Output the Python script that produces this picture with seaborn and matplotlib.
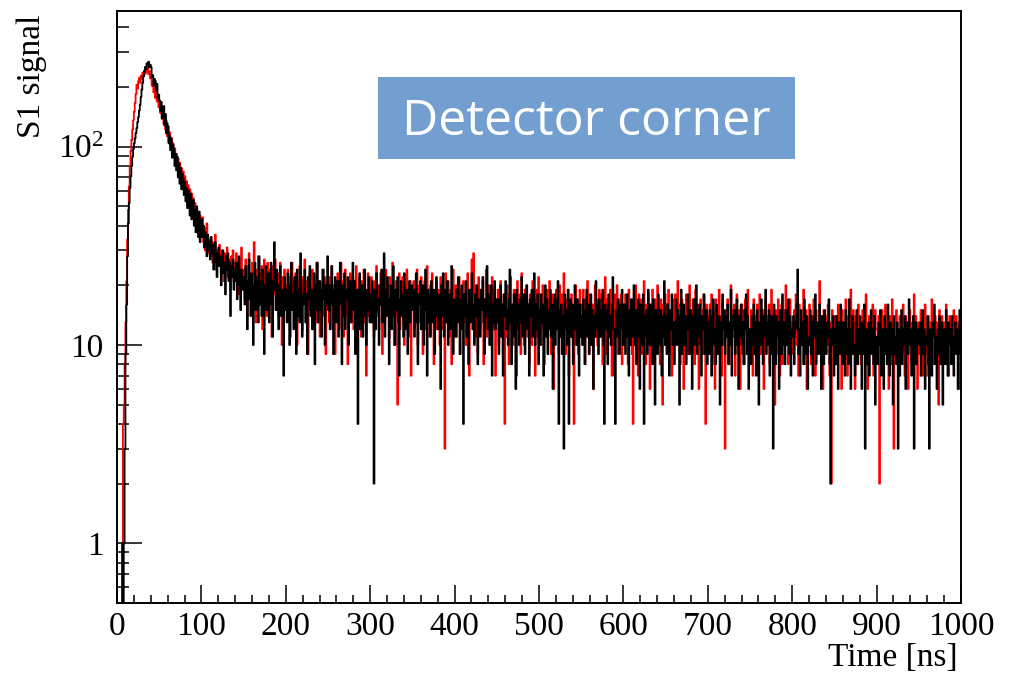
import numpy as np
import pandas as pd
import matplotlib
matplotlib.use("Agg")
import matplotlib.pyplot as plt
import seaborn as sns
from matplotlib.ticker import FixedLocator, FixedFormatter, LogLocator, MultipleLocator, NullFormatter
from matplotlib.patches import Rectangle

# ---------------- data: counts per 1 ns bin ----------------
# 0-99 ns
red_rise = [0, 0, 0, 0, 0, 0, 0, 4, 5, 8,
            13, 21, 34, 48, 63, 80, 95, 108, 122, 136,
            150, 166, 184, 205, 196, 214, 222, 210, 228, 219,
            236, 226, 241, 233, 246, 238, 252, 232, 240, 221,
            221, 203, 214, 188, 199, 176, 192, 169, 181, 158,
            170, 148, 160, 138, 151, 130, 144, 122, 135, 113,
            127, 106, 118, 100, 111, 93, 104, 88, 98, 82,
            92, 77, 87, 72, 83, 68, 78, 64, 75, 60,
            71, 57, 67, 54, 64, 50, 61, 48, 58, 45,
            55, 43, 52, 41, 49, 39, 47, 37, 45, 36]
black_rise = [0, 0, 0, 0, 0, 0, 1, 0, 1, 3,
              9, 16, 28, 41, 52, 62, 71, 80, 89, 97,
              104, 110, 117, 124, 133, 141, 152, 163, 178, 194,
              210, 226, 240, 252, 246, 263, 257, 268, 251, 259,
              252, 224, 229, 203, 219, 214, 192, 207, 176, 183,
              171, 152, 168, 139, 149, 160, 128, 146, 117, 131,
              126, 104, 113, 96, 109, 88, 102, 97, 80, 92,
              76, 89, 70, 82, 65, 78, 61, 73, 69, 57,
              66, 53, 62, 49, 60, 56, 45, 58, 43, 51,
              54, 40, 48, 37, 50, 44, 35, 47, 33, 42]

# 100-999 ns
red_tail = [
    38, 44, 33, 39, 30, 36, 41, 29, 34, 31,
    28, 35, 31, 26, 33, 29, 36, 24, 30, 27,
    25, 32, 28, 23, 30, 26, 21, 29, 27, 24,
    31, 22, 27, 25, 19, 28, 24, 30, 21, 26,
    23, 29, 20, 25, 18, 27, 22, 31, 19, 24,
    24, 17, 27, 20, 14, 25, 29, 19, 22, 15,
    26, 18, 33, 21, 13, 24, 19, 28, 16, 23,
    20, 25, 12, 22, 27, 18, 23, 14, 26, 19,
    16, 24, 20, 11, 25, 18, 22, 27, 15, 20,
    23, 14, 19, 26, 17, 10, 22, 18, 24, 15,
    20, 15, 24, 17, 22, 11, 19, 26, 16, 21,
    13, 23, 18, 10, 21, 17, 25, 14, 20, 12,
    22, 16, 27, 18, 13, 21, 9, 17, 23, 15,
    19, 24, 12, 18, 16, 22, 26, 13, 17, 21,
    11, 20, 16, 24, 18, 14, 22, 9, 17, 21,
    19, 13, 22, 16, 25, 12, 20, 17, 9, 21,
    15, 23, 18, 12, 17, 26, 16, 21, 11, 19,
    24, 14, 18, 8, 21, 16, 23, 13, 17, 22,
    12, 20, 16, 25, 10, 19, 15, 22, 17, 11,
    21, 16, 24, 13, 18, 7, 17, 23, 14, 19,
    18, 22, 13, 19, 11, 21, 16, 25, 14, 20,
    12, 17, 23, 16, 9, 19, 21, 13, 24, 17,
    15, 20, 11, 22, 17, 13, 26, 16, 10, 19,
    21, 14, 5, 17, 23, 12, 19, 16, 22, 13,
    10, 20, 17, 24, 15, 11, 19, 21, 7, 16,
    17, 21, 12, 19, 15, 24, 10, 18, 20, 13,
    22, 15, 9, 18, 21, 12, 16, 25, 13, 19,
    11, 20, 16, 23, 14, 8, 18, 15, 21, 12,
    19, 16, 10, 22, 15, 20, 12, 17, 3, 23,
    13, 18, 21, 11, 16, 19, 8, 15, 24, 12,
    16, 20, 11, 18, 14, 22, 9, 17, 19, 12,
    21, 13, 18, 10, 15, 23, 12, 7, 19, 16,
    27, 14, 29, 17, 11, 20, 15, 9, 22, 16,
    12, 19, 15, 21, 8, 17, 13, 24, 11, 18,
    20, 14, 10, 18, 22, 15, 12, 19, 7, 16,
    15, 19, 10, 17, 21, 12, 16, 9, 18, 4,
    17, 11, 20, 14, 8, 18, 22, 12, 16, 10,
    19, 14, 17, 7, 21, 12, 16, 18, 9, 23,
    13, 17, 10, 19, 14, 20, 11, 16, 8, 18,
    15, 10, 21, 13, 17, 7, 14, 19, 11, 22,
    14, 18, 10, 16, 20, 12, 8, 17, 13, 19,
    11, 16, 21, 13, 9, 18, 14, 6, 17, 12,
    19, 13, 16, 9, 20, 14, 11, 18, 10, 23,
    15, 9, 17, 13, 19, 7, 16, 11, 18, 13,
    10, 4, 16, 20, 12, 17, 9, 15, 19, 11,
    16, 11, 19, 13, 8, 17, 12, 21, 14, 9,
    18, 13, 10, 16, 6, 14, 20, 11, 17, 10,
    13, 19, 11, 15, 18, 8, 16, 12, 22, 13,
    9, 17, 14, 12, 19, 10, 7, 16, 13, 18,
    12, 15, 20, 9, 17, 13, 10, 18, 8, 16,
    15, 10, 18, 12, 16, 8, 19, 13, 11, 17,
    9, 4, 15, 12, 20, 13, 16, 7, 18, 11,
    14, 17, 9, 15, 21, 12, 8, 16, 10, 18,
    12, 6, 16, 13, 19, 10, 15, 17, 11, 14,
    20, 10, 15, 8, 17, 12, 5, 16, 13, 18,
    11, 16, 13, 19, 9, 15, 12, 7, 17, 13,
    10, 18, 12, 15, 21, 11, 16, 8, 14, 17,
    12, 6, 15, 11, 18, 13, 9, 16, 20, 12,
    15, 9, 17, 12, 8, 19, 13, 10, 16, 6,
    13, 17, 10, 15, 9, 18, 12, 4, 16, 11,
    14, 9, 16, 12, 18, 8, 15, 11, 6, 17,
    12, 15, 9, 19, 11, 14, 7, 16, 12, 10,
    3, 15, 11, 17, 13, 8, 12, 20, 10, 15,
    11, 16, 7, 14, 18, 12, 9, 15, 6, 13,
    16, 9, 13, 8, 17, 14, 11, 19, 10, 12,
    10, 15, 12, 7, 17, 11, 14, 8, 16, 12,
    11, 18, 9, 14, 10, 15, 6, 13, 17, 10,
    14, 11, 16, 8, 12, 19, 10, 15, 11, 5,
    15, 12, 9, 17, 11, 7, 14, 16, 8, 13,
    11, 15, 20, 10, 14, 8, 12, 17, 9, 13,
    13, 9, 15, 11, 18, 10, 14, 7, 16, 12,
    10, 14, 12, 19, 8, 11, 15, 6, 13, 10,
    16, 11, 8, 14, 10, 17, 12, 7, 15, 11,
    9, 13, 21, 10, 14, 11, 6, 15, 10, 13,
    14, 10, 16, 11, 7, 13, 2, 15, 10, 14,
    12, 8, 14, 10, 16, 9, 13, 11, 6, 15,
    10, 13, 9, 17, 12, 7, 14, 10, 12, 19,
    9, 12, 15, 10, 6, 14, 11, 8, 16, 10,
    13, 8, 11, 15, 10, 14, 9, 18, 12, 6,
    10, 14, 9, 13, 11, 16, 7, 10, 15, 12,
    12, 9, 14, 2, 13, 10, 15, 8, 12, 10,
    16, 9, 13, 10, 6, 14, 11, 8, 17, 11,
    3, 13, 10, 15, 9, 12, 7, 14, 10, 13,
    9, 16, 11, 7, 14, 10, 13, 6, 12, 15,
    10, 8, 13, 11, 18, 9, 14, 10, 6, 13,
    12, 9, 15, 10, 7, 13, 11, 16, 9, 12,
    7, 14, 10, 13, 9, 17, 11, 8, 10, 14,
    9, 13, 11, 5, 15, 10, 8, 14, 12, 10,
    13, 9, 16, 11, 12, 7, 14, 9, 13, 10,
    8, 15, 12, 10, 14, 9, 13, 6, 12, 11,
]
black_tail = [
    43, 35, 40, 31, 37, 34, 28, 36, 30, 33,
    27, 35, 29, 32, 24, 30, 33, 26, 22, 29,
    31, 25, 28, 20, 27, 30, 23, 26, 18, 28,
    24, 29, 21, 26, 14, 25, 22, 27, 19, 24,
    21, 26, 17, 23, 28, 20, 15, 24, 22, 19,
    22, 16, 25, 19, 12, 21, 27, 17, 14, 23,
    20, 10, 18, 26, 15, 22, 19, 13, 28, 16,
    21, 14, 24, 18, 9, 20, 25, 15, 19, 23,
    13, 18, 26, 16, 11, 21, 33, 19, 15, 24,
    17, 12, 20, 25, 14, 19, 16, 7, 22, 15,
    19, 13, 23, 17, 10, 20, 26, 15, 18, 12,
    22, 16, 9, 24, 14, 19, 13, 29, 18, 11,
    16, 21, 24, 13, 18, 9, 22, 17, 25, 14,
    19, 12, 17, 23, 8, 20, 15, 26, 13, 18,
    21, 15, 11, 19, 24, 17, 10, 20, 16, 28,
    15, 20, 12, 18, 25, 16, 9, 19, 22, 13,
    17, 21, 11, 16, 26, 18, 8, 20, 14, 23,
    12, 19, 17, 22, 10, 16, 21, 13, 18, 26,
    15, 21, 9, 17, 19, 4, 16, 23, 12, 18,
    20, 11, 17, 24, 14, 10, 19, 15, 22, 13,
    18, 13, 21, 16, 2, 19, 12, 23, 15, 17,
    10, 20, 16, 24, 13, 18, 29, 11, 19, 14,
    22, 17, 8, 16, 20, 12, 18, 25, 14, 10,
    19, 15, 22, 13, 7, 17, 21, 14, 18, 11,
    23, 16, 12, 19, 9, 17, 21, 13, 18, 20,
    15, 19, 11, 17, 23, 13, 8, 18, 16, 21,
    12, 17, 20, 10, 15, 24, 16, 7, 19, 13,
    18, 11, 21, 16, 13, 19, 9, 17, 22, 14,
    12, 18, 16, 6, 20, 14, 23, 11, 17, 19,
    13, 21, 10, 16, 18, 12, 25, 15, 9, 17,
    16, 11, 19, 13, 22, 17, 9, 15, 20, 12,
    4, 18, 14, 21, 11, 16, 8, 19, 13, 17,
    23, 12, 16, 10, 18, 14, 20, 8, 17, 13,
    11, 19, 15, 22, 13, 9, 17, 14, 25, 12,
    18, 10, 15, 20, 7, 16, 13, 21, 12, 17,
    13, 17, 9, 15, 20, 11, 16, 7, 18, 14,
    21, 12, 15, 10, 17, 24, 13, 8, 16, 11,
    18, 14, 6, 19, 12, 16, 10, 17, 13, 22,
    11, 15, 18, 9, 14, 20, 12, 16, 7, 17,
    14, 19, 11, 15, 23, 10, 16, 12, 18, 8,
    15, 10, 18, 13, 16, 7, 14, 20, 11, 17,
    9, 15, 12, 19, 11, 16, 6, 14, 18, 10,
    17, 12, 21, 4, 15, 11, 16, 9, 14, 3,
    18, 12, 15, 10, 19, 4, 13, 17, 11, 16,
    8, 15, 20, 12, 10, 17, 13, 7, 16, 11,
    14, 10, 17, 12, 8, 15, 19, 11, 16, 9,
    13, 18, 10, 15, 6, 14, 11, 21, 16, 12,
    9, 17, 14, 11, 15, 19, 10, 4, 16, 12,
    15, 8, 18, 11, 14, 10, 16, 22, 12, 7,
    4, 15, 11, 17, 13, 9, 16, 12, 19, 10,
    13, 16, 9, 14, 18, 11, 7, 15, 10, 17,
    14, 11, 20, 10, 15, 8, 13, 17, 11, 6,
    16, 12, 10, 18, 4, 14, 11, 15, 9, 19,
    12, 10, 16, 13, 8, 17, 11, 5, 15, 12,
    9, 18, 13, 10, 15, 7, 14, 11, 21, 10,
    14, 9, 16, 11, 7, 15, 12, 18, 10, 13,
    8, 13, 17, 10, 15, 11, 5, 14, 19, 9,
    12, 16, 10, 14, 8, 12, 18, 13, 9, 15,
    11, 6, 14, 17, 10, 13, 20, 9, 15, 11,
    16, 10, 7, 14, 12, 18, 9, 11, 15, 8,
    13, 9, 15, 11, 7, 14, 17, 10, 12, 8,
    16, 11, 9, 14, 5, 13, 10, 18, 12, 15,
    9, 14, 11, 16, 8, 13, 10, 19, 7, 14,
    12, 15, 9, 13, 17, 10, 6, 14, 11, 16,
    10, 13, 8, 15, 12, 18, 9, 14, 6, 12,
    12, 8, 14, 10, 16, 9, 13, 7, 15, 11,
    5, 13, 10, 17, 12, 8, 14, 11, 19, 9,
    13, 10, 15, 7, 12, 14, 9, 3, 16, 11,
    8, 14, 11, 13, 6, 15, 12, 9, 18, 10,
    13, 8, 15, 11, 10, 17, 9, 14, 7, 12,
    11, 14, 8, 13, 12, 16, 24, 9, 12, 7,
    15, 10, 13, 8, 17, 12, 9, 14, 6, 11,
    10, 15, 9, 13, 7, 14, 11, 18, 8, 10,
    13, 9, 16, 11, 6, 14, 12, 8, 15, 10,
    9, 13, 11, 17, 8, 2, 12, 10, 14, 7,
    12, 8, 14, 10, 6, 13, 9, 16, 11, 8,
    13, 10, 7, 15, 9, 12, 8, 17, 11, 6,
    12, 14, 9, 10, 7, 13, 15, 8, 12, 9,
    14, 10, 6, 13, 9, 16, 3, 12, 8, 11,
    13, 7, 11, 15, 9, 12, 8, 14, 5, 10,
    11, 8, 13, 10, 15, 7, 12, 10, 6, 14,
    9, 12, 8, 16, 11, 7, 13, 9, 12, 5,
    14, 9, 11, 8, 13, 3, 12, 7, 11, 15,
    8, 12, 10, 14, 6, 11, 13, 9, 17, 10,
    12, 7, 11, 14, 3, 10, 13, 8, 11, 12,
    10, 13, 7, 11, 15, 9, 12, 6, 11, 10,
    14, 8, 3, 12, 10, 7, 13, 11, 16, 8,
    11, 6, 12, 9, 14, 8, 11, 13, 5, 10,
    12, 8, 15, 11, 7, 13, 10, 12, 8, 14,
    11, 7, 10, 13, 9, 12, 6, 11, 15, 9,
]

series_names = ["red", "black"]
series_colors = {"red": "#ff0000", "black": "#000000"}
x_ticks = [0, 100, 200, 300, 400, 500, 600, 700, 800, 900, 1000]
y_ticks = [1, 10, 100]
y_tick_labels = ["1", "10", r"$10^{2}$"]
title_text = "Detector corner"
x_label = "Time [ns]"
y_label = "S1 signal"


def to_frame(name, rise, tail):
    counts = np.concatenate([np.asarray(rise, float), np.asarray(tail, float)])
    return pd.DataFrame({
        "time": np.arange(len(counts)) + 0.5,   # 1 ns bin centres
        "counts": counts,
        "series": name,
    })


df = pd.concat([to_frame("red", red_rise, red_tail),
                to_frame("black", black_rise, black_tail)], ignore_index=True)

# ---------------- style ----------------
sns.set_theme(style="white")
plt.rcParams["font.family"] = ["Liberation Serif", "DejaVu Serif"]
plt.rcParams["mathtext.fontset"] = "custom"
plt.rcParams["mathtext.rm"] = "Liberation Serif"
plt.rcParams["mathtext.default"] = "regular"
plt.rcParams["text.color"] = "black"

W, H = 1010, 673
fig = plt.figure(figsize=(W / 100, H / 100), dpi=100)
fig.patch.set_facecolor("white")
ax = fig.add_axes([117 / W, 1 - 602.7 / H, (961 - 117) / W, (602.7 - 11) / H])

sns.lineplot(data=df, x="time", y="counts", hue="series", hue_order=series_names,
             palette=series_colors, estimator=None, sort=False, drawstyle="steps-mid",
             linewidth=1.3, legend=False, ax=ax)

ax.set_yscale("log", nonpositive="clip")
ax.set_xlim(0, 1000)
ax.set_ylim(0.502, 483)

ax.xaxis.set_major_locator(FixedLocator(x_ticks))
ax.xaxis.set_minor_locator(MultipleLocator(20))
ax.yaxis.set_major_locator(FixedLocator(y_ticks))
ax.yaxis.set_major_formatter(FixedFormatter(y_tick_labels))
ax.yaxis.set_minor_locator(LogLocator(base=10, subs=np.arange(2, 10), numticks=30))
ax.yaxis.set_minor_formatter(NullFormatter())

ax.tick_params(axis="both", which="both", direction="in", colors="black",
               left=True, bottom=True, top=False, right=False,
               labelsize=24, width=1.1)
ax.tick_params(axis="y", which="major", length=18, pad=9.5)
ax.tick_params(axis="y", which="minor", length=8.6)
ax.tick_params(axis="x", which="major", length=12.7, pad=6.5)
ax.tick_params(axis="x", which="minor", length=5.5)
for s in ax.spines.values():
    s.set_visible(True)
    s.set_linewidth(1.4)
    s.set_color("black")
ax.set_xlabel("")
ax.set_ylabel("")
ax.grid(False)

fig.text(32 / W, 1 - 15 / H, y_label, rotation=90, ha="center", va="top",
         fontsize=24, color="black")
fig.text(958 / W, 1 - 666 / H, x_label, ha="right", va="baseline",
         fontsize=24, color="black")

fig.add_artist(Rectangle((378 / W, 1 - 159 / H), 417 / W, 82 / H,
                         transform=fig.transFigure, facecolor="#729fcf", edgecolor="none"))
fig.text(586.5 / W, 1 - 135 / H, title_text, ha="center", va="baseline",
         fontsize=36, color="white", family=["Open Sans", "DejaVu Sans"])

fig.savefig("out.png", dpi=100)
